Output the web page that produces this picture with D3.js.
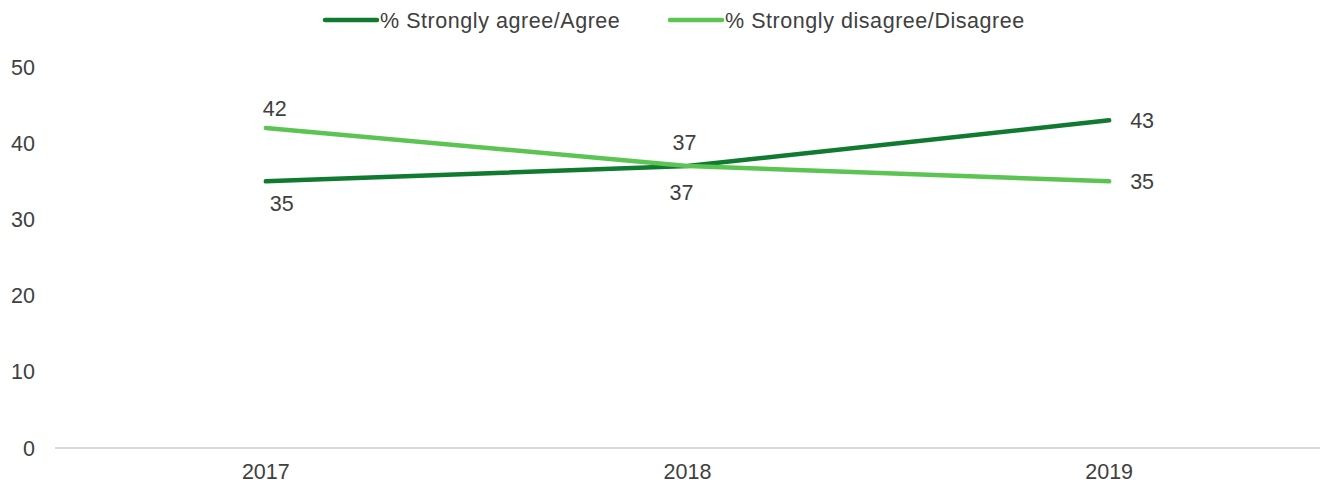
<!DOCTYPE html>
<html><head><meta charset="utf-8">
<script src="https://cdn.jsdelivr.net/npm/d3@7"></script>
<style>body{margin:0;background:#fff;} text{font-family:"Liberation Sans",Arial,sans-serif;}</style>
</head><body>
<svg id="c" width="1321" height="486"></svg>
<script>
const categories = ["2017", "2018", "2019"];
const agree = [35, 37, 43];
const disagree = [42, 37, 35];
const seriesNames = ["% Strongly agree/Agree", "% Strongly disagree/Disagree"];
const yTicks = [0, 10, 20, 30, 40, 50];
const colors = ["#0f7a30", "#5cc452"];

const svg = d3.select("#c");
const x = d3.scaleBand().domain(categories).range([55, 1320]);
const y = d3.scaleLinear().domain([0, 50]).range([448, 67]);
const cx = d => x(d) + x.bandwidth() / 2;
const textColor = "#404040";
const fs = 21.5;

// y tick labels
svg.append("g").selectAll("text").data(yTicks).join("text")
  .attr("x", 35).attr("y", d => y(d)).attr("dy", "0.35em")
  .attr("text-anchor", "end").attr("font-size", fs).attr("fill", textColor)
  .text(d => d);

// x axis line
svg.append("line").attr("x1", 55).attr("x2", 1320).attr("y1", y(0)).attr("y2", y(0))
  .attr("stroke", "#d9d9d9").attr("stroke-width", 2);

// x labels
svg.append("g").selectAll("text").data(categories).join("text")
  .attr("x", d => cx(d)).attr("y", 471).attr("dy", "0.35em")
  .attr("text-anchor", "middle").attr("font-size", fs).attr("fill", textColor)
  .text(d => d);

const series = [agree, disagree];
const line = d3.line().x((d, i) => cx(categories[i])).y(d => y(d));
series.forEach((s, k) => {
  svg.append("path").datum(s).attr("d", line).attr("fill", "none")
    .attr("stroke", colors[k]).attr("stroke-width", 4.5).attr("stroke-linecap", "round");
});

// data labels: offsets by position
const labelOffsets = [
  // agree
  [[16, 22], [-6, 26], [21, 0]],
  // disagree
  [[9, -19], [-3, -24], [21, 0]]
];
series.forEach((s, k) => {
  svg.append("g").selectAll("text").data(s).join("text")
    .attr("x", (d, i) => cx(categories[i]) + labelOffsets[k][i][0])
    .attr("y", (d, i) => y(d) + labelOffsets[k][i][1]).attr("dy", "0.35em")
    .attr("text-anchor", (d, i) => i === 2 ? "start" : "middle")
    .attr("font-size", fs).attr("fill", textColor)
    .text(d => d);
});

// legend
const legendItems = [
  {name: seriesNames[0], color: colors[0], x: 325},
  {name: seriesNames[1], color: colors[1], x: 670}
];
const lg = svg.append("g");
legendItems.forEach(it => {
  lg.append("line").attr("x1", it.x).attr("x2", it.x + 52).attr("y1", 20).attr("y2", 20)
    .attr("stroke", it.color).attr("stroke-width", 4.5).attr("stroke-linecap", "round");
  lg.append("text").attr("x", it.x + 55).attr("y", 20).attr("dy", "0.35em")
    .attr("font-size", fs).attr("letter-spacing", 0.55).attr("fill", textColor).text(it.name);
});
</script>
</body></html>
